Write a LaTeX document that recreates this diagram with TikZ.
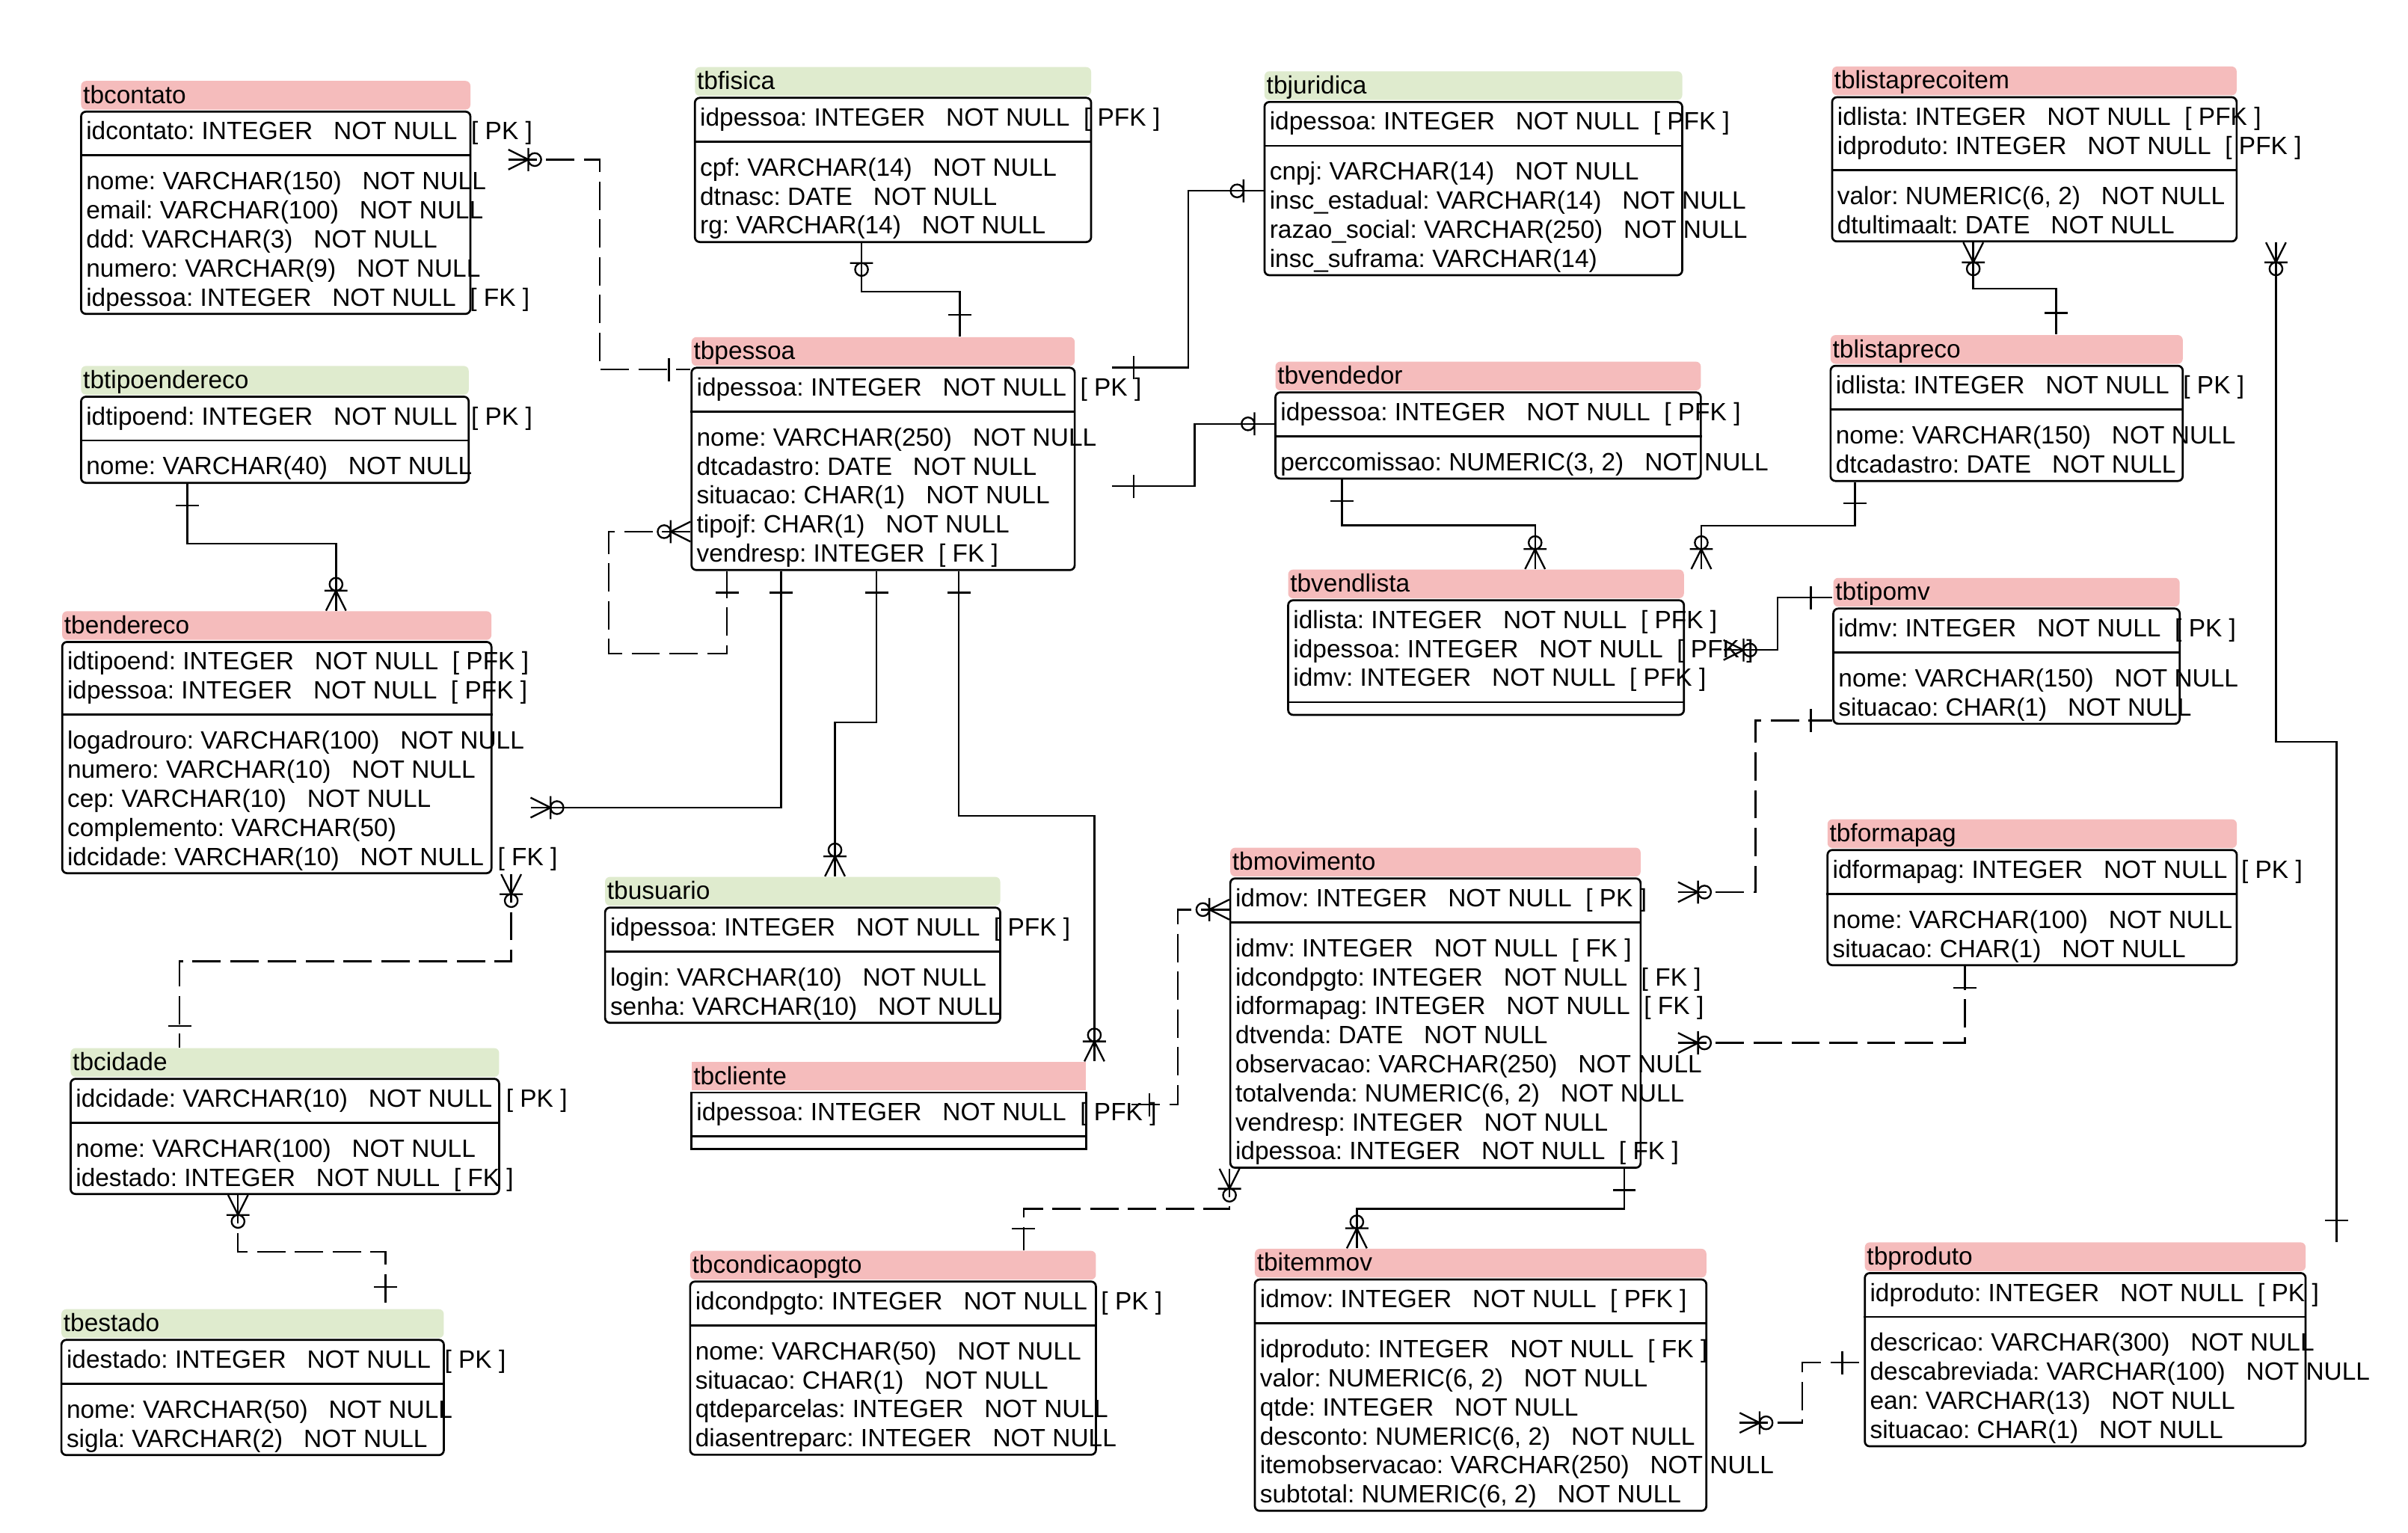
\documentclass[tikz,border=0pt]{standalone}
\usepackage{fontspec}
\setmainfont{Liberation Sans}
\usetikzlibrary{fit}
\definecolor{headpink}{RGB}{245,188,188}
\definecolor{headgreen}{RGB}{223,235,206}
\newcommand{\nnull}{\ \ \ NOT NULL}
\newcommand{\keytag}[1]{\ \ [ #1 ]}
\frenchspacing

\begin{document}
\begin{tikzpicture}[
			x=0.02cm, y=-0.02cm,
			box line/.style={line width=0.75pt},
			box corners/.style={rounded corners=1.8pt},
			rel line/.style={line width=0.65pt},
			rel dashed/.style={rel line, dash pattern=on 10.5pt off 3.5pt},
			row node/.style={anchor=base west, inner sep=0pt, font=\fontsize{9.27pt}{10.75pt}\selectfont},
			onebar/.pic={\draw[rel line] (14,-7.5) -- (14,7.5);},
			zeroone/.pic={\draw[rel line] (13,-7.5) -- (13,7.5) (17.2,0) circle[radius=4.2];},
			zeromany/.pic={\draw[rel line] (0,-6.5) -- (13,0) -- (0,6.5) (13,-7.5) -- (13,7.5) (17.2,0) circle[radius=4.2];}
			]
			\path[use as bounding box, fill=white] (0,0) rectangle (1568,998);
			\newcommand{\drawtable}[9]{
				\pgfmathsetmacro{\divy}{#3+32.5+(#6-1)*18.9+16}
				\pgfmathsetmacro{\boty}{#7>0 ? \divy+16.6+(#7-1)*18.9+11 : \divy+8.3}
				\node[fit={(#2,#3) (#2+#4,#3+18.7)}, inner sep=0pt, fill=#5, box corners] (#1-head) {};
				\node[row node] (#1-title) at (#2+1,#3+14.6) {#1};
				\node[fit={(#2,#3+20) (#2+#4,\boty)}, inner sep=0pt, draw, box line, box corners] (#1) {};
				\draw[box line] (#1.west |- 0,\divy) -- (#1.east |- 0,\divy);
				\foreach \row [count=\rowno] in {#8}
					\node[row node] (#1-pk\rowno) at (#2+3,#3+38.3+\rowno*18.9-18.9) {\row};
				\foreach \row [count=\rowno] in {#9}
					\node[row node] (#1-at\rowno) at (#2+3,\divy+22.4+\rowno*18.9-18.9) {\row};
			}
			
			\drawtable{tbcontato}{52.8}{52.7}{253.5}{headpink}{1}{5}
				{{idcontato: INTEGER\nnull\keytag{PK}}}
				{{nome: VARCHAR(150)\nnull},{email: VARCHAR(100)\nnull},{ddd: VARCHAR(3)\nnull},{numero: VARCHAR(9)\nnull},{idpessoa: INTEGER\nnull\keytag{FK}}}
			\drawtable{tbfisica}{452.5}{43.7}{258}{headgreen}{1}{3}
				{{idpessoa: INTEGER\nnull\keytag{PFK}}}
				{{cpf: VARCHAR(14)\nnull},{dtnasc: DATE\nnull},{rg: VARCHAR(14)\nnull}}
			\drawtable{tbjuridica}{823.4}{46.4}{272}{headgreen}{1}{4}
				{{idpessoa: INTEGER\nnull\keytag{PFK}}}
				{{cnpj: VARCHAR(14)\nnull},{insc\_estadual: VARCHAR(14)\nnull},{razao\_social: VARCHAR(250)\nnull},{insc\_suframa: VARCHAR(14)}}
			\drawtable{tblistaprecoitem}{1193}{43.3}{263.4}{headpink}{2}{2}
				{{idlista: INTEGER\nnull\keytag{PFK}},{idproduto: INTEGER\nnull\keytag{PFK}}}
				{{valor: NUMERIC(6, 2)\nnull},{dtultimaalt: DATE\nnull}}
			\drawtable{tbtipoendereco}{52.8}{238.3}{252.4}{headgreen}{1}{1}
				{{idtipoend: INTEGER\nnull\keytag{PK}}}
				{{nome: VARCHAR(40)\nnull}}
			\drawtable{tbpessoa}{450.3}{219.5}{249.5}{headpink}{1}{5}
				{{idpessoa: INTEGER\nnull\keytag{PK}}}
				{{nome: VARCHAR(250)\nnull},{dtcadastro: DATE\nnull},{situacao: CHAR(1)\nnull},{tipojf: CHAR(1)\nnull},{vendresp: INTEGER\keytag{FK}}}
			\drawtable{tbvendedor}{830.5}{235.5}{277}{headpink}{1}{1}
				{{idpessoa: INTEGER\nnull\keytag{PFK}}}
				{{perccomissao: NUMERIC(3, 2)\nnull}}
			\drawtable{tblistapreco}{1192}{218.2}{229.3}{headpink}{1}{2}
				{{idlista: INTEGER\nnull\keytag{PK}}}
				{{nome: VARCHAR(150)\nnull},{dtcadastro: DATE\nnull}}
			\drawtable{tbvendlista}{838.8}{370.9}{257.7}{headpink}{3}{0}
				{{idlista: INTEGER\nnull\keytag{PFK}},{idpessoa: INTEGER\nnull\keytag{PFK}},{idmv: INTEGER\nnull\keytag{PFK}}}
				{}
			\drawtable{tbtipomv}{1193.8}{376.3}{225.5}{headpink}{1}{2}
				{{idmv: INTEGER\nnull\keytag{PK}}}
				{{nome: VARCHAR(150)\nnull},{situacao: CHAR(1)\nnull}}
			\drawtable{tbendereco}{40.5}{398}{279.5}{headpink}{2}{5}
				{{idtipoend: INTEGER\nnull\keytag{PFK}},{idpessoa: INTEGER\nnull\keytag{PFK}}}
				{{logadrouro: VARCHAR(100)\nnull},{numero: VARCHAR(10)\nnull},{cep: VARCHAR(10)\nnull},{complemento: VARCHAR(50)},{idcidade: VARCHAR(10)\nnull\keytag{FK}}}
			\drawtable{tbusuario}{394}{571}{257.3}{headgreen}{1}{2}
				{{idpessoa: INTEGER\nnull\keytag{PFK}}}
				{{login: VARCHAR(10)\nnull},{senha: VARCHAR(10)\nnull}}
			\begin{scope}[box corners/.style={sharp corners}]
				\drawtable{tbcliente}{450.2}{691.5}{257}{headpink}{1}{0}
					{{idpessoa: INTEGER\nnull\keytag{PFK}}}
					{}
			\end{scope}
			\drawtable{tbcidade}{46}{682.5}{279}{headgreen}{1}{2}
				{{idcidade: VARCHAR(10)\nnull\keytag{PK}}}
				{{nome: VARCHAR(100)\nnull},{idestado: INTEGER\nnull\keytag{FK}}}
			\drawtable{tbestado}{40}{852.5}{249}{headgreen}{1}{2}
				{{idestado: INTEGER\nnull\keytag{PK}}}
				{{nome: VARCHAR(50)\nnull},{sigla: VARCHAR(2)\nnull}}
			\drawtable{tbformapag}{1190}{533.5}{266.5}{headpink}{1}{2}
				{{idformapag: INTEGER\nnull\keytag{PK}}}
				{{nome: VARCHAR(100)\nnull},{situacao: CHAR(1)\nnull}}
			\drawtable{tbmovimento}{801.1}{552}{267.2}{headpink}{1}{8}
				{{idmov: INTEGER\nnull\keytag{PK}}}
				{{idmv: INTEGER\nnull\keytag{FK}},{idcondpgto: INTEGER\nnull\keytag{FK}},{idformapag: INTEGER\nnull\keytag{FK}},{dtvenda: DATE\nnull},{observacao: VARCHAR(250)\nnull},{totalvenda: NUMERIC(6, 2)\nnull},{vendresp: INTEGER\nnull},{idpessoa: INTEGER\nnull\keytag{FK}}}
			\drawtable{tbcondicaopgto}{449.4}{814.5}{264.2}{headpink}{1}{4}
				{{idcondpgto: INTEGER\nnull\keytag{PK}}}
				{{nome: VARCHAR(50)\nnull},{situacao: CHAR(1)\nnull},{qtdeparcelas: INTEGER\nnull},{diasentreparc: INTEGER\nnull}}
			\drawtable{tbitemmov}{817.1}{813.2}{294}{headpink}{1}{6}
				{{idmov: INTEGER\nnull\keytag{PFK}}}
				{{idproduto: INTEGER\nnull\keytag{FK}},{valor: NUMERIC(6, 2)\nnull},{qtde: INTEGER\nnull},{desconto: NUMERIC(6, 2)\nnull},{itemobservacao: VARCHAR(250)\nnull},{subtotal: NUMERIC(6, 2)\nnull}}
			\drawtable{tbproduto}{1214.3}{809}{287}{headpink}{1}{4}
				{{idproduto: INTEGER\nnull\keytag{PK}}}
				{{descricao: VARCHAR(300)\nnull},{descabreviada: VARCHAR(100)\nnull},{ean: VARCHAR(13)\nnull},{situacao: CHAR(1)\nnull}}
			
			% ends that sit past the box edges
			\coordinate (contato-fk) at (331,103.9);
			\coordinate (pessoa-pk1) at (724.3,239.3);
			\coordinate (pessoa-pk2) at (724.3,316.6);
			\coordinate (endereco-fk) at (345.5,525.9);
			\coordinate (vendlista-fk) at (1122.3,423.3);
			\coordinate (movimento-fk1) at (1092.7,580.9);
			\coordinate (movimento-fk2) at (1092.7,679.1);
			\coordinate (cliente-pk) at (734.5,719.3);
			\coordinate (itemmov-fk) at (1132.8,926.5);
			
			\draw[rel dashed] (contato-fk) -| (390.4,240.6) -- (tbpessoa.west |- 0,240.6);
			\pic at (contato-fk) {zeromany};
			\pic[rotate=180] at (tbpessoa.west |- 0,240.6) {onebar};
			
			\draw[rel line] (tbfisica.south -| 561,0) |- (625,190) -- (tbpessoa-head.north -| 625,0);
			\pic[rotate=-90] at (tbfisica.south -| 561,0) {zeroone};
			\pic[rotate=90] at (tbpessoa-head.north -| 625,0) {onebar};
			
			\draw[rel line] (tbjuridica.west |- 0,124.3) -| (773.7,239.3) -- (pessoa-pk1);
			\pic[rotate=180] at (tbjuridica.west |- 0,124.3) {zeroone};
			\pic at (pessoa-pk1) {onebar};
			
			\draw[rel line] (tbvendedor.west |- 0,276) -| (777.9,316.6) -- (pessoa-pk2);
			\pic[rotate=180] at (tbvendedor.west |- 0,276) {zeroone};
			\pic at (pessoa-pk2) {onebar};
			
			\draw[rel dashed] (tbpessoa.west |- 0,346.2) -| (396.4,425.7) -| (tbpessoa.south -| 473.4,0);
			\pic[rotate=180] at (tbpessoa.west |- 0,346.2) {zeromany};
			\pic[rotate=-90] at (tbpessoa.south -| 473.4,0) {onebar};
			
			\draw[rel line] (endereco-fk) -| (tbpessoa.south -| 508.7,0);
			\pic at (endereco-fk) {zeromany};
			\pic[rotate=-90] at (tbpessoa.south -| 508.7,0) {onebar};
			
			\draw[rel line] (tbpessoa.south -| 570.8,0) |- (543.7,470.4) -- (tbusuario-head.north -| 543.7,0);
			\pic[rotate=-90] at (tbpessoa.south -| 570.8,0) {onebar};
			\pic[rotate=90] at (tbusuario-head.north -| 543.7,0) {zeromany};
			
			\draw[rel line] (tbpessoa.south -| 624.4,0) |- (712.6,531.4) -- (tbcliente-head.north -| 712.6,0);
			\pic[rotate=-90] at (tbpessoa.south -| 624.4,0) {onebar};
			\pic[rotate=90] at (tbcliente-head.north -| 712.6,0) {zeromany};
			
			\draw[rel line] (tbtipoendereco.south -| 122,0) |- (218.8,354) -- (tbendereco-head.north -| 218.8,0);
			\pic[rotate=-90] at (tbtipoendereco.south -| 122,0) {onebar};
			\pic[rotate=90] at (tbendereco-head.north -| 218.8,0) {zeromany};
			
			\draw[rel dashed] (tbendereco.south -| 332.9,0) |- (117,626) -- (tbcidade-head.north -| 117,0);
			\pic[rotate=-90] at (tbendereco.south -| 332.9,0) {zeromany};
			\pic[rotate=90] at (tbcidade-head.north -| 117,0) {onebar};
			
			\draw[rel dashed] (tbcidade.south -| 155,0) |- (251,815) -- (tbestado-head.north -| 251,0);
			\pic[rotate=-90] at (tbcidade.south -| 155,0) {zeromany};
			\pic[rotate=90] at (tbestado-head.north -| 251,0) {onebar};
			
			\draw[rel line] (tblistaprecoitem.south -| 1284.9,0) |- (1338.9,187.9) -- (tblistapreco-head.north -| 1338.9,0);
			\pic[rotate=-90] at (tblistaprecoitem.south -| 1284.9,0) {zeromany};
			\pic[rotate=90] at (tblistapreco-head.north -| 1338.9,0) {onebar};
			
			\draw[rel line] (tblistaprecoitem.south -| 1482,0) |- (1521.4,483) -- (tbproduto-head.north -| 1521.4,0);
			\pic[rotate=-90] at (tblistaprecoitem.south -| 1482,0) {zeromany};
			\pic[rotate=90] at (tbproduto-head.north -| 1521.4,0) {onebar};
			
			\draw[rel line] (tbvendedor.south -| 873.8,0) |- (999.6,342) -- (tbvendlista-head.north -| 999.6,0);
			\pic[rotate=-90] at (tbvendedor.south -| 873.8,0) {onebar};
			\pic[rotate=90] at (tbvendlista-head.north -| 999.6,0) {zeromany};
			
			\draw[rel line] (tblistapreco.south -| 1207.8,0) |- (1107.8,342.2) -- (tbvendlista-head.north -| 1107.8,0);
			\pic[rotate=-90] at (tblistapreco.south -| 1207.8,0) {onebar};
			\pic[rotate=90] at (tbvendlista-head.north -| 1107.8,0) {zeromany};
			
			\draw[rel line] (vendlista-fk) -| (1157.4,389.2) -- (tbtipomv.west |- 0,389.2);
			\pic at (vendlista-fk) {zeromany};
			\pic[rotate=180] at (tbtipomv.west |- 0,389.2) {onebar};
			
			\draw[rel dashed] (movimento-fk1) -| (1143.1,469.1) -- (tbtipomv.west |- 0,469.1);
			\pic at (movimento-fk1) {zeromany};
			\pic[rotate=180] at (tbtipomv.west |- 0,469.1) {onebar};
			
			\draw[rel dashed] (movimento-fk2) -| (tbformapag.south -| 1279.5,0);
			\pic at (movimento-fk2) {zeromany};
			\pic[rotate=-90] at (tbformapag.south -| 1279.5,0) {onebar};
			
			\draw[rel dashed] (tbmovimento.west |- 0,592.3) -| (767,719.3) -- (cliente-pk);
			\pic[rotate=180] at (tbmovimento.west |- 0,592.3) {zeromany};
			\pic at (cliente-pk) {onebar};
			
			\draw[rel dashed] (tbmovimento.south -| 800.6,0) |- (666.5,787.2) -- (tbcondicaopgto-head.north -| 666.5,0);
			\pic[rotate=-90] at (tbmovimento.south -| 800.6,0) {zeromany};
			\pic[rotate=90] at (tbcondicaopgto-head.north -| 666.5,0) {onebar};
			
			\draw[rel line] (tbmovimento.south -| 1057.7,0) |- (883.5,787.2) -- (tbitemmov-head.north -| 883.5,0);
			\pic[rotate=-90] at (tbmovimento.south -| 1057.7,0) {onebar};
			\pic[rotate=90] at (tbitemmov-head.north -| 883.5,0) {zeromany};
			
			\draw[rel dashed] (itemmov-fk) -| (1173.7,887.3) -- (tbproduto.west |- 0,887.3);
			\pic at (itemmov-fk) {zeromany};
			\pic[rotate=180] at (tbproduto.west |- 0,887.3) {onebar};
		\end{tikzpicture}
\end{document}
